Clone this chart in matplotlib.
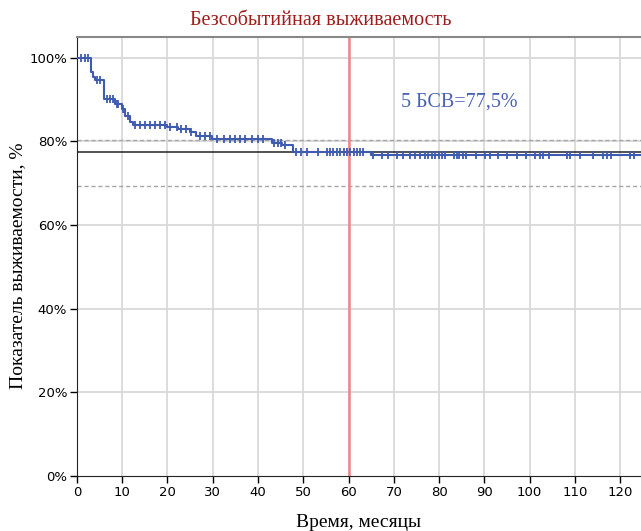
import numpy as np
import matplotlib
matplotlib.use('Agg')
import matplotlib.pyplot as plt

# Kaplan-Meier step curve (months, % surviving)
event_times = [0, 3.0, 3.5, 3.9, 6.0, 8.4, 9.9, 10.6, 11.7, 12.4, 19.8, 22.4,
               25.0, 26.4, 29.8, 43.0, 45.2, 47.8, 65.0]
event_surv = [100, 96.6, 95.4, 94.8, 90.1, 89.0, 87.7, 86.2, 84.7, 83.9, 83.4,
              83.0, 82.2, 81.4, 80.6, 79.6, 79.1, 77.5, 76.8]

censor_times = [1.0, 1.8, 2.4, 4.5, 5.2, 6.6, 7.3, 8.0, 8.8, 9.1, 10.2, 11.2,
                12.8, 13.9, 15.0, 16.1, 17.2, 18.3, 19.4, 20.6, 22.0, 23.1,
                24.2, 25.3, 27.2, 28.3, 29.4, 30.9, 32.4, 33.8, 34.9, 36.0,
                37.1, 38.6, 40.0, 41.0, 43.6, 44.4, 45.0, 46.0, 48.5, 49.6,
                50.8, 53.3, 55.2, 55.9, 56.6, 57.4, 58.1, 58.9, 59.6, 60.3,
                61.1, 61.8, 62.5, 63.3, 65.5, 67.3, 68.8, 70.6, 72.1, 73.6,
                74.7, 75.8, 76.9, 77.6, 78.4, 79.1, 79.9, 80.6, 81.3, 83.2,
                83.9, 84.5, 85.2, 86.0, 88.2, 90.2, 91.3, 93.1, 95.1, 97.2,
                99.2, 101.2, 102.2, 103.0, 104.2, 108.2, 108.9, 111.2, 114.1,
                116.2, 117.1, 117.9, 122.2, 123.1]

efs_5y = 77.5
ci_low, ci_high = 69.3, 80.4
landmark = 60

x_ticks = list(range(0, 121, 10))
y_ticks = [0, 20, 40, 60, 80, 100]
x_max = 124.6

curve_color = '#3f5bb0'
serif = ['Liberation Serif', 'DejaVu Serif']

fig = plt.figure(figsize=(6.41, 5.31), dpi=100)
ax = fig.add_axes([0.120, 0.1036, 0.880, 0.8268])

# grid
for t in x_ticks[1:]:
    ax.axvline(t, color='#d9d9d9', lw=1.3, zorder=0)
for v in y_ticks[1:]:
    ax.axhline(v, color='#d9d9d9', lw=1.3, zorder=0)

# confidence bounds and 5-year level
ax.axhline(ci_high, color='#a6a6a6', lw=1.0, ls=(0, (3, 2)), zorder=1)
ax.axhline(ci_low, color='#a6a6a6', lw=1.0, ls=(0, (3, 2)), zorder=1)
ax.axhline(efs_5y, color='#222222', lw=1.1, zorder=2)
ax.axvline(landmark, color='#f08585', lw=1.8, zorder=2)

# KM curve
xs = list(event_times) + [x_max + 1]
ys = list(event_surv) + [event_surv[-1]]
ax.step(xs, ys, where='post', color=curve_color, lw=1.5, zorder=3)

# censor marks on the curve
ct = np.array(censor_times)
idx = np.searchsorted(np.array(event_times), ct, side='right') - 1
cs = np.array(event_surv)[idx]
ax.plot(ct, cs, ls='none', marker='|', ms=6, mew=1.3, color=curve_color,
        zorder=4)

ax.text(71.5, 89.5, '5 БСВ=77,5%', color='#4a62b5', fontsize=14.5,
        family=serif, ha='left', va='center')

ax.set_xlim(0, x_max)
ax.set_ylim(0, 105)
ax.set_xticks(x_ticks)
ax.set_yticks(y_ticks)
ax.set_yticklabels([f'{v}%' for v in y_ticks])
ax.tick_params(axis='both', direction='out', length=5, width=1,
               labelsize=9.5, pad=2)

ax.spines['left'].set_color('#222222')
ax.spines['bottom'].set_color('#222222')
ax.spines['top'].set_color('#888888')
ax.spines['top'].set_linewidth(1.5)
ax.spines['right'].set_visible(False)

ax.set_xlabel('Время, месяцы', fontsize=14, family=serif, labelpad=11)
ax.set_ylabel('Показатель выживаемости, %', fontsize=14, family=serif)
ax.yaxis.set_label_coords(-0.090, 0.478)
fig.text(0.5, 0.962, 'Безсобытийная выживаемость', color='#a01c1c',
         fontsize=14.5, family=serif, ha='center', va='center')

fig.savefig('out.png', dpi=100)
